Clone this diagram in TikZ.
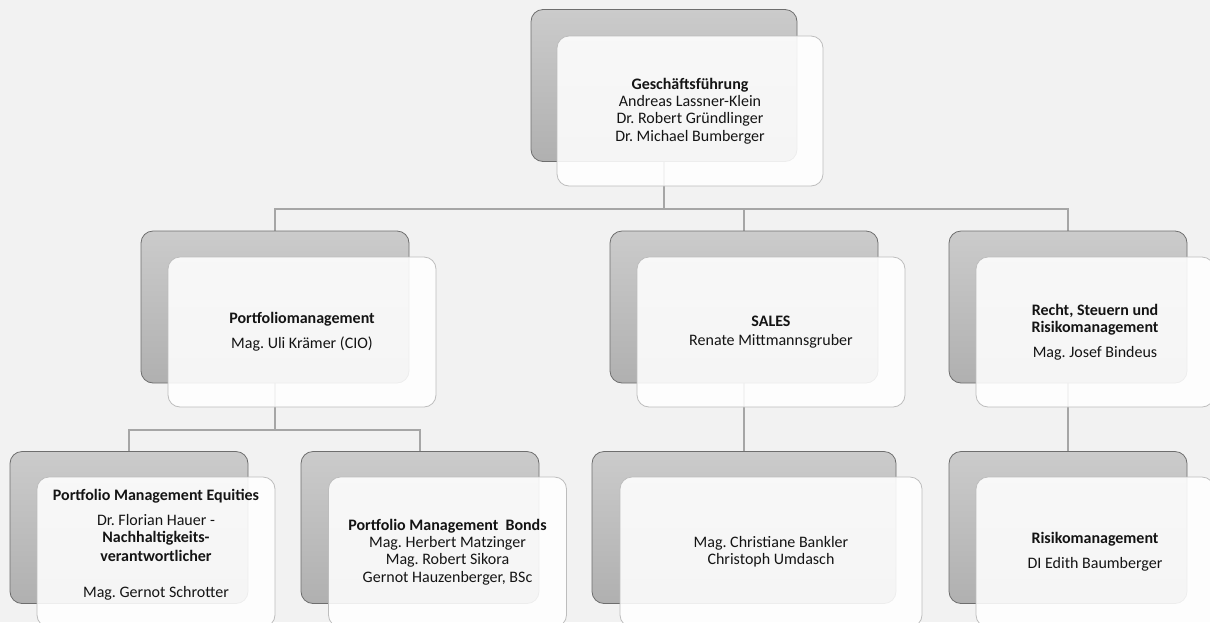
\documentclass[tikz,border=0pt]{standalone}
\usepackage{fontspec}
\setmainfont{Carlito}
\frenchspacing
\definecolor{bgc}{HTML}{F2F2F2}
\definecolor{linec}{HTML}{A6A6A6}
\definecolor{backtop}{HTML}{CBCBCB}
\definecolor{backbot}{HTML}{B0B0B0}
\definecolor{backedge}{HTML}{6E6E6E}
\definecolor{frontedge}{HTML}{BDBDBD}
\definecolor{txt}{HTML}{141414}
\pgfdeclarelayer{bglayer}
\pgfdeclarelayer{linelayer}
\pgfsetlayers{bglayer,linelayer,main}
\tikzset{
  backbox/.style={draw=backedge, line width=0.8pt, rounded corners=12pt,
    top color=backtop, bottom color=backbot, minimum height=152pt, inner sep=0pt},
  frontbox/.style={draw=frontedge, line width=0.8pt, rounded corners=12pt,
    fill=white, fill opacity=0.88, text opacity=1, minimum height=150pt,
    align=center, font=\fontsize{16}{17.3}\selectfont, text=txt, inner sep=0pt},
  conn/.style={draw=linec, line width=2pt}
}
\begin{document}
\begin{tikzpicture}[x=1pt,y=-1pt]
\begin{pgfonlayer}{bglayer}
\fill[bgc] (0,0) rectangle (1210,622);
\end{pgfonlayer}
\useasboundingbox (0,0) rectangle (1210,622);

% top
\node[backbox, minimum width=266pt] (gfb) at (664,85.5) {};
\node[frontbox, minimum width=266pt] (gf) at (690,111)
  {\textbf{Geschäftsführung}\\Andreas Lassner-Klein\\Dr. Robert Gründlinger\\Dr. Michael Bumberger};

% second row
\node[backbox, minimum width=268pt] (pmb) at (275,307) {};
\node[frontbox, minimum width=268pt] (pm) at (302,332)
  {\textbf{Portfoliomanagement}\\[8pt]Mag. Uli Krämer (CIO)};

\node[backbox, minimum width=268pt] (sab) at (744,307) {};
\node[frontbox, minimum width=268pt] (sa) at (771,332)
  {\textbf{SALES}\\[1pt]Renate Mittmannsgruber};

\node[backbox, minimum width=238pt] (reb) at (1068,307) {};
\node[frontbox, minimum width=238pt] (re) at (1095,332)
  {\textbf{Recht, Steuern und}\\\textbf{Risikomanagement}\\[7pt]Mag. Josef Bindeus};

% third row
\node[backbox, minimum width=238pt] (eqb) at (129,527.5) {};
\node[frontbox, minimum width=238pt] (eq) at (156,552)
  {\textbf{Portfolio Management Equities}\\[7pt]Dr. Florian Hauer -\\\textbf{Nachhaltigkeits-}\\[2pt]\textbf{verantwortlicher}\\[18pt]Mag. Gernot Schrotter\\\mbox{}};

\node[backbox, minimum width=238pt] (bdb) at (420,527.5) {};
\node[frontbox, minimum width=238pt] (bd) at (447.5,552)
  {\textbf{Portfolio Management\ \ Bonds}\\Mag. Herbert Matzinger\\Mag. Robert Sikora\\Gernot Hauzenberger, BSc};

\node[backbox, minimum width=304pt] (cub) at (744,527.5) {};
\node[frontbox, minimum width=302pt] (cu) at (771,552)
  {Mag. Christiane Bankler\\Christoph Umdasch};

\node[backbox, minimum width=238pt] (rkb) at (1068,527.5) {};
\node[frontbox, minimum width=238pt] (rk) at (1095,552)
  {\textbf{Risikomanagement}\\[8pt]DI Edith Baumberger};

% connectors
\coordinate (h1) at (0,209);
\coordinate (h2) at (0,430);
\begin{pgfonlayer}{linelayer}
\draw[conn] (gfb.south) -- (gfb.south |- h1);
\draw[conn] (pmb.north) |- (reb.north |- h1) -- (reb.north);
\draw[conn] (sab.north |- h1) -- (sab.north);
\draw[conn] (pmb.south) -- (pmb.south |- h2);
\draw[conn] (eqb.north) |- (bdb.north |- h2) -- (bdb.north);
\draw[conn] (sab.south) -- (cub.north);
\draw[conn] (reb.south) -- (rkb.north);
\end{pgfonlayer}
\end{tikzpicture}
\end{document}
